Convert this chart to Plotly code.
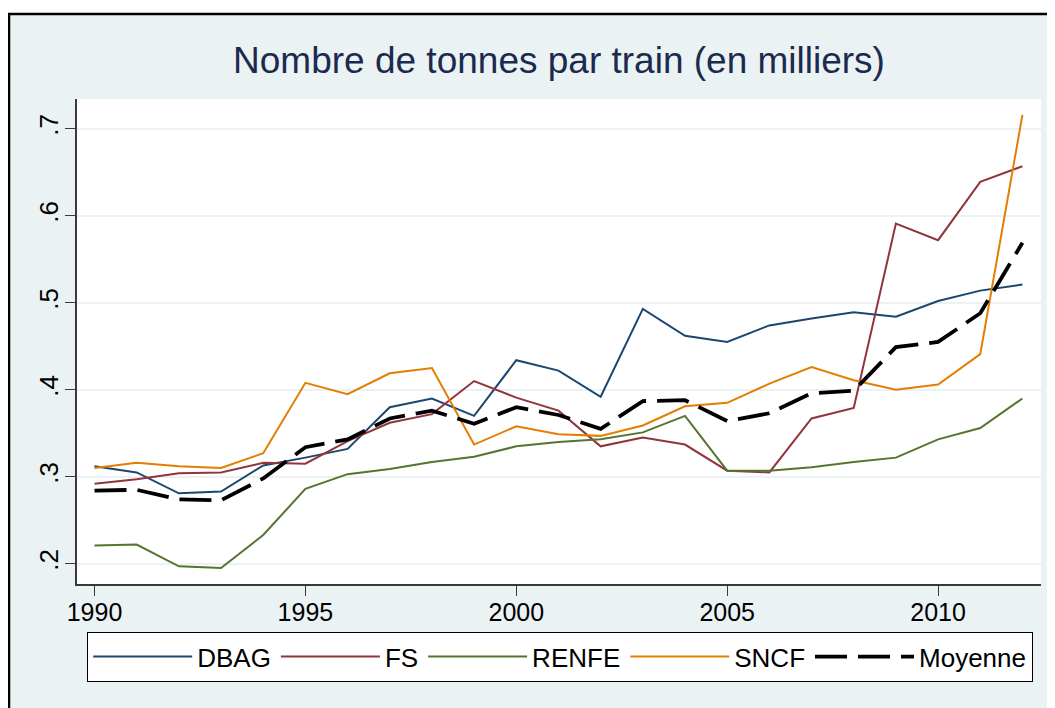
import plotly.graph_objects as go

# ── Données ──────────────────────────────────────────────────────────────────
years = list(range(1990, 2013))

dbag = [0.312, 0.305, 0.281, 0.283, 0.313, 0.322, 0.332, 0.380, 0.390, 0.370,
        0.434, 0.422, 0.392, 0.493, 0.462, 0.455, 0.474, 0.482, 0.489, 0.484,
        0.502, 0.514, 0.521]
fs = [0.292, 0.297, 0.304, 0.305, 0.316, 0.315, 0.341, 0.362, 0.372, 0.410,
      0.391, 0.376, 0.335, 0.345, 0.337, 0.307, 0.305, 0.367, 0.379, 0.591,
      0.572, 0.639, 0.657]
renfe = [0.221, 0.222, 0.197, 0.195, 0.233, 0.286, 0.303, 0.309, 0.317, 0.323,
         0.335, 0.340, 0.343, 0.351, 0.370, 0.307, 0.307, 0.311, 0.317, 0.322,
         0.343, 0.356, 0.390]
sncf = [0.310, 0.316, 0.312, 0.310, 0.327, 0.408, 0.395, 0.419, 0.425, 0.337,
        0.358, 0.349, 0.347, 0.359, 0.381, 0.385, 0.407, 0.426, 0.411, 0.400,
        0.406, 0.441, 0.716]
moyenne = [0.284, 0.285, 0.274, 0.273, 0.298, 0.334, 0.343, 0.367, 0.376, 0.361,
           0.380, 0.371, 0.355, 0.387, 0.388, 0.364, 0.373, 0.396, 0.399, 0.449,
           0.455, 0.488, 0.569]

y_ticks = [0.2, 0.3, 0.4, 0.5, 0.6, 0.7]
y_labels = [".2", ".3", ".4", ".5", ".6", ".7"]
x_ticks = [1990, 1995, 2000, 2005, 2010]

SERIES = [
    ("DBAG", dbag, "#1A476F", 2, "solid"),
    ("FS", fs, "#90353B", 2, "solid"),
    ("RENFE", renfe, "#55752F", 2, "solid"),
    ("SNCF", sncf, "#E37E00", 2, "solid"),
    ("Moyenne", moyenne, "#000000", 3.8, "32px,11px"),
]

FONT = "Liberation Sans, Arial, sans-serif"
BG = "#EAF2F3"
AXIS = "#3a3a3a"

# zone de tracé (pixels de la figure)
L, T, R, B = 69, 91, 22, 132
W, H = 1055, 708
PW, PH = W - L - R, H - T - B

fig = go.Figure()
for name, vals, color, width, dash in SERIES:
    fig.add_trace(go.Scatter(x=years, y=vals, mode="lines", name=name,
                             line=dict(color=color, width=width, dash=dash)))

fig.update_layout(
    width=W, height=H,
    margin=dict(l=L, r=R, t=T, b=B, autoexpand=False),
    paper_bgcolor="white", plot_bgcolor="white",
    font=dict(family=FONT, size=25, color="#000000"),
    title=dict(text="Nombre de tonnes par train (en milliers)",
               x=551 / W, xanchor="center", y=1 - 52 / H, yanchor="middle",
               font=dict(family=FONT, size=37, color="#1B2A4E")),
    xaxis=dict(range=[1989.585, 2012.44], tickvals=x_ticks,
               showgrid=False, zeroline=False,
               showline=True, linecolor=AXIS, linewidth=1.6,
               ticks="outside", ticklen=10, tickcolor=AXIS, tickwidth=1.3,
               ticklabelstandoff=-5,
               tickfont=dict(size=25)),
    yaxis=dict(range=[0.1767, 0.7343], tickvals=y_ticks, ticktext=y_labels,
               tickangle=-90,
               showgrid=True, gridcolor=BG, gridwidth=1.6, zeroline=False,
               showline=True, linecolor=AXIS, linewidth=1.6,
               ticks="outside", ticklen=10, tickcolor=AXIS, tickwidth=1.3,
               ticklabelstandoff=-3,
               tickfont=dict(size=26)),
    legend=dict(orientation="h", x=(79 - L) / PW, xanchor="left",
                y=(H - B - 624) / PH, yanchor="top",
                bgcolor="white", bordercolor="#000000", borderwidth=1.2,
                font=dict(size=26), itemwidth=99, tracegroupgap=0),
    showlegend=True,
)

# fond gris-bleu encadré de noir, puis zone de tracé blanche
fig.add_shape(type="rect", xref="paper", yref="paper",
              x0=(1 - L) / PW, x1=1.3, y0=-0.6, y1=(H - B - 6) / PH,
              line=dict(color="#000000", width=2.5), fillcolor=BG, layer="below")
fig.add_shape(type="rect", xref="paper", yref="paper",
              x0=0, x1=1, y0=0, y1=1,
              line=dict(width=0), fillcolor="white", layer="below")

fig.write_html("out.html")
